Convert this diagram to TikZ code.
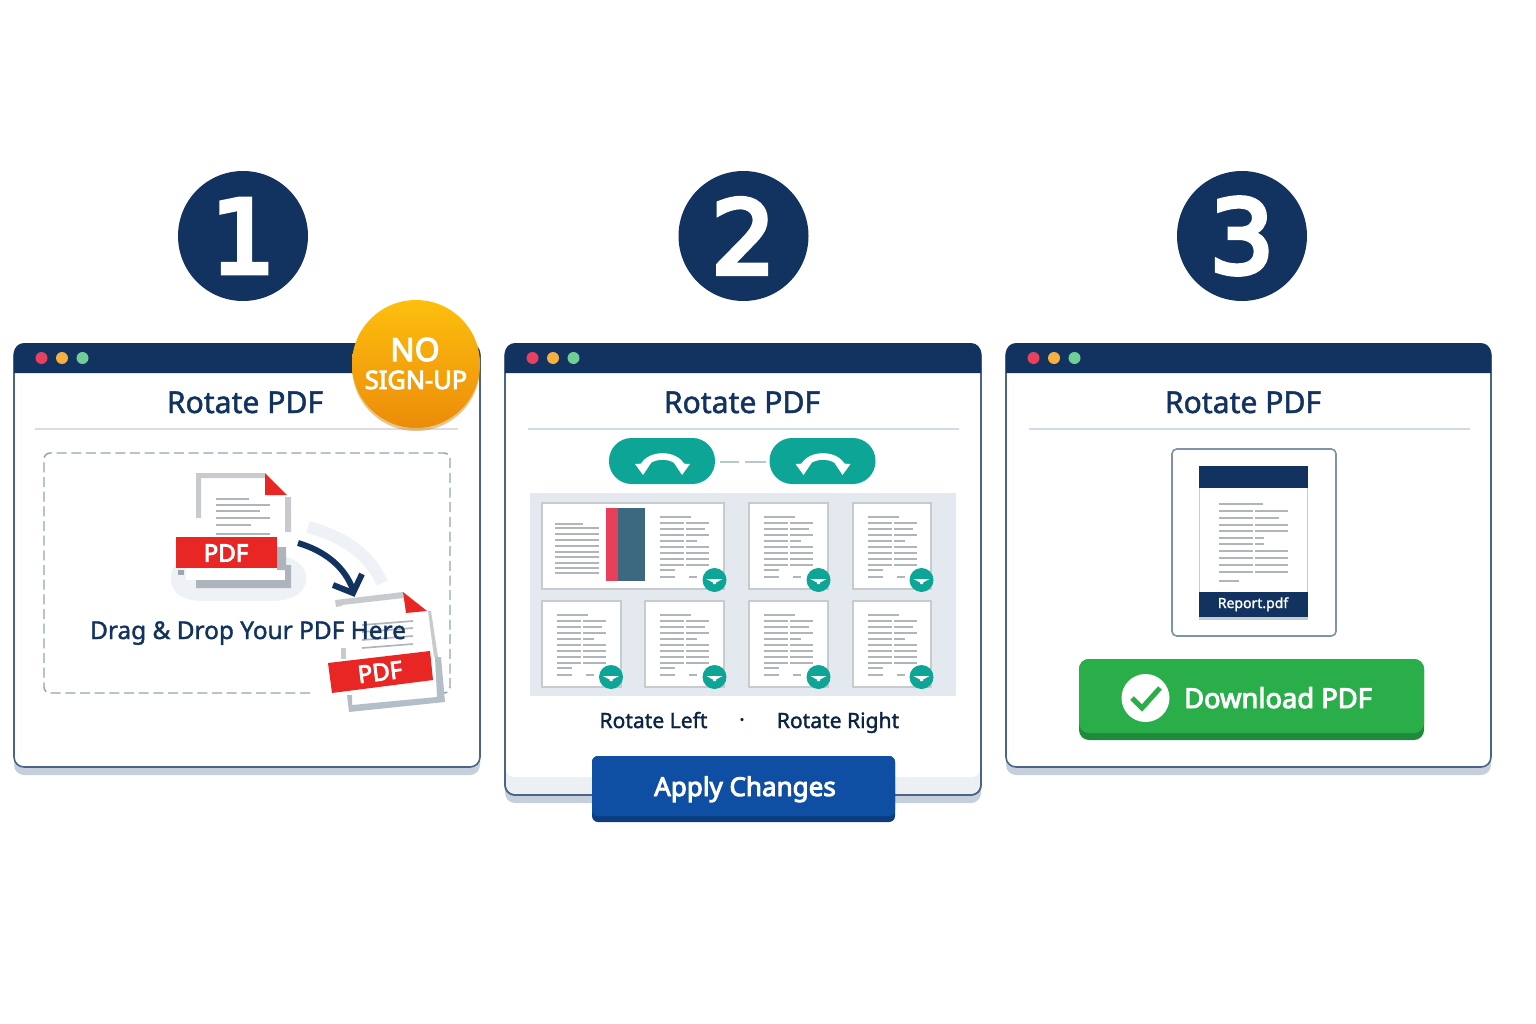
\documentclass[tikz,border=0pt]{standalone}
\usepackage{fontspec}
\setmainfont{Noto Sans}
\newfontfamily\medfont[FakeBold=1.6]{Noto Sans}
\newfontfamily\heavyfont[FakeBold=3.6]{Noto Sans}
\newfontfamily\digitfont[FakeBold=5]{DejaVu Sans}

\definecolor{navy}{RGB}{18,51,95}
\definecolor{winline}{RGB}{74,101,133}
\definecolor{winshadow}{RGB}{197,208,220}
\definecolor{teal}{RGB}{12,165,150}
\definecolor{pdfred}{RGB}{232,39,36}
\definecolor{docgrey}{RGB}{200,203,206}
\definecolor{txtgrey}{RGB}{176,181,186}
\definecolor{pale}{RGB}{238,241,245}

\tikzset{every picture/.style={line width=0.75pt}}
\tikzset{
  txtline/.style={draw=txtgrey,line width=1.25pt},
  paper/.style={fill=white,draw=docgrey,line width=1.4pt},
  title/.style={anchor=base,inner sep=0.75pt,text=navy,font=\medfont\fontsize{22.6}{26}\selectfont},
  stepdigit/.style={inner sep=0.75pt,text=white,font=\digitfont\fontsize{76}{90}\selectfont},
  pdftag/.style={inner sep=0.75pt,text=white,font=\heavyfont\fontsize{18}{20}\selectfont},
  caption/.style={anchor=base,inner sep=0.75pt,text=navy!70!black,font=\medfont\fontsize{15.8}{19}\selectfont},
  pics/turnicon/.style={code={
    \fill [teal,rounded corners=17pt] (-53,-23) rectangle (53,23) ;
    \draw [white,line width=5pt] (-19,6) .. controls (-13,-8) and (14,-8) .. (20,6) ;
    \fill [white] (-27,3) -- (-11,2) -- (-19,14) -- cycle ;
    \fill [white] (28,3) -- (12,2) -- (20,14) -- cycle ;
  }},
  pics/minibadge/.style={code={
    \fill [teal] (0,0) circle (9pt) ;
    \fill [white] (-8,-1) -- (8,-1) -- (1.5,2.5) -- (1.5,4) -- (-1.5,4) -- (-1.5,2.5) -- cycle ;
  }},
}

\newcommand{\pagelines}[2]{
  \draw [txtline] (#1+15,#2+14) -- (#1+46,#2+14) ;
  \foreach \dy/\re in {20/64,26/60,32/64,38/52,44/64,50/64,56/64,62/64}
    \draw [txtline] (#1+15,#2+\dy) -- (#1+39,#2+\dy) (#1+41,#2+\dy) -- (#1+\re,#2+\dy) ;
  \draw [txtline] (#1+15,#2+67) -- (#1+30,#2+67) ;
  \draw [txtline] (#1+15,#2+74) -- (#1+30,#2+74) (#1+44,#2+74) -- (#1+52,#2+74) ;
}

\begin{document}
\begin{tikzpicture}[x=0.75pt,y=0.75pt,yscale=-1,xscale=1]
\useasboundingbox (0,0) rectangle (1536,1024);

% Step circles
\foreach \cx/\lab in {243/1,743.5/2,1242/3}{
  \fill [navy] (\cx,236) circle (48.75pt) ;
  \node (step\lab) [stepdigit] at (\cx,236) {\lab};
}

% Windows
\foreach \wl/\wr/\wb/\tx/\rl/\rr/\rc [count=\n] in {14/480/767/245/35/458/225,505/981/795/742/528/959/210,1006/1491/767/1243/1029/1470/210}{
  \fill [winshadow,rounded corners=7.5pt] (\wl,360) rectangle (\wr,\wb+8) ;
  \fill [white,rounded corners=7.5pt] (\wl,345) rectangle (\wr,\wb) ;
  \draw [winline,line width=1.2pt,rounded corners=7.5pt] (\wl,345) rectangle (\wr,\wb) ;
  \fill [navy] (\wl,373) [rounded corners=7.5pt] -- (\wl,343) -- (\wr,343) [sharp corners] -- (\wr,373) -- cycle ;
  \fill [color={rgb,255:red,232;green,64;blue,95}] (\wl+27.5,358) circle (4.5pt) ;
  \fill [color={rgb,255:red,245;green,176;blue,65}] (\wl+48,358) circle (4.5pt) ;
  \fill [color={rgb,255:red,111;green,207;blue,151}] (\wl+68.5,358) circle (4.5pt) ;
  \draw [line width=1.5pt,color={rgb,255:red,\rc;green,218;blue,229}] (\rl,429) -- (\rr,429) ;
  \node (title\n) [title] at (\tx,413) {Rotate PDF};
}

% Footer band of the middle window
\fill [color={rgb,255:red,236;green,239;blue,243},rounded corners=7.5pt] (506,760) rectangle (980,794) ;
\fill [white,rounded corners=6pt] (506,740) rectangle (980,777) ;
\draw [winline,line width=1.2pt,rounded corners=7.5pt] (505,745) -- (505,795) -- (981,795) -- (981,745) ;

% Drop zone
\draw [color={rgb,255:red,143;green,163;blue,184},line width=1.1pt,dash pattern=on 7.5pt off 3.5pt,rounded corners=4.5pt]
  (310,693) -- (44,693) -- (44,453) -- (450,453) -- (450,693) -- (436,693) ;

% First document
\fill [pale] (171,578) .. controls (171,558) and (190,555) .. (210,555) -- (280,555) .. controls (300,560) and (306,568) .. (306,578) .. controls (306,595) and (290,601) .. (270,601) -- (205,601) .. controls (185,601) and (171,595) .. (171,578) -- cycle ;
\fill [white] (201,478) -- (265,478) -- (285,497) -- (285,537) -- (201,537) -- cycle ;
\fill [docgrey] (196,473) rectangle (265,478) (196,473) rectangle (201,518) (285,497) rectangle (291,532) ;
\fill [pdfred] (265,473) -- (265,495) -- (287,495) -- cycle ;
\foreach \ly/\lr in {499/249,505/270,511/260,518/270,525/251,534/270}
  \draw [txtline] (216,\ly) -- (\lr,\ly) ;
\fill [white] (186,560) rectangle (285,580) ;
\fill [color={rgb,255:red,174;green,180;blue,188}] (196,580) rectangle (291,588) (285,565) rectangle (291,588) (277,547) rectangle (286,570) ;
\fill [color={rgb,255:red,160;green,166;blue,174}] (178,570) rectangle (184,575) ;
\fill [pdfred] (176,537) rectangle (277,568) ;
\node (pdfa) [pdftag] at (226,553) {PDF};

% Drag arrow
\draw [pale,line width=9pt] (308,527) .. controls (345,537) and (370,555) .. (382,583) ;
\draw [navy,line width=4.5pt] (298,543) .. controls (325,551) and (345,567) .. (353,590) ;
\draw [navy,line width=4.5pt,line join=miter] (333,585) -- (353,593) -- (362,574) ;

% Second document
\fill [white] (335,600) -- (403,592) -- (428,611) -- (445,702) -- (349,712) -- cycle ;
\fill [docgrey] (335,600) -- (403,592) -- (404,598) -- (342,605) -- (342,606) -- (336,607) -- cycle ;
\fill [docgrey] (428,611) -- (431,611) -- (438,657) -- (434,657) -- cycle ;
\fill [color={rgb,255:red,180;green,190;blue,200}] (435,657) -- (441,657) -- (445,702) -- (349,712) -- (347,695) -- (352,695) -- (352,705) -- (437,697) -- cycle ;
\fill [pdfred] (403,592) -- (406,613) -- (427,611) -- cycle ;
\fill [color={rgb,255:red,200;green,203;blue,206}] (341,648) rectangle (346,659) ;
\foreach \ly in {625,632,640,648}
  \draw [txtline] (362,\ly) -- (413,\ly-4) ;
\fill [pdfred] (328,663) -- (430,651) -- (433,680) -- (332,693) -- cycle ;
\node (pdfb) [pdftag,rotate=7] at (380,672) {PDF};

% Text Node
\node (dragtext) [anchor=base,inner sep=0.75pt,text=navy,font=\medfont\fontsize{18.3}{22}\selectfont] at (248,639) {Drag \& Drop Your PDF Here};

% Badge
\fill [color={rgb,255:red,214;green,150;blue,40},opacity=0.55] (416,367) circle (48pt) ;
\shade [top color={rgb,255:red,253;green,191;blue,13},bottom color={rgb,255:red,236;green,140;blue,10}] (416,364) circle (48pt) ;
\node (badgeno) [anchor=base,inner sep=0.75pt,text=white,font=\heavyfont\fontsize{24}{28}\selectfont] at (415,361) {NO};
\node (badgesign) [anchor=base,inner sep=0.75pt,text=white,font=\heavyfont\fontsize{19}{22}\selectfont] at (416,389) {SIGN-UP};

% Rotate controls
\pic [transform shape] at (662,461) {turnicon};
\pic [transform shape] at (822.5,461) {turnicon};
\draw [color={rgb,255:red,185;green,198;blue,208},line width=1.2pt] (720,462) -- (739,462) (745,462) -- (766,462) ;

% Page panel
\fill [color={rgb,255:red,228;green,233;blue,239}] (530,493) rectangle (956,696) ;
\foreach \pl/\ptop/\pr in {542/503/724,749/503/828,853/503/931,542/601/621,645/601/724,749/601/828,853/601/931}
  \draw [paper] (\pl,\ptop) rectangle (\pr,\ptop+86) ;
\pagelines{645}{503}
\pagelines{749}{503}
\pagelines{853}{503}
\pagelines{542}{601}
\pagelines{645}{601}
\pagelines{749}{601}
\pagelines{853}{601}
% open page
\draw [txtline] (555,524) -- (583,524) ;
\foreach \ly in {528,534,540,546,552,557,563,568,573}
  \draw [txtline] (555,\ly) -- (599,\ly) ;
\fill [white] (604,505) rectangle (648,587) ;
\fill [color={rgb,255:red,232;green,64;blue,90}] (606,508) rectangle (618,581) ;
\fill [color={rgb,255:red,60;green,104;blue,128}] (618,508) rectangle (645,581) ;
\foreach \bx/\by in {714.5/580,818.5/580,921.5/580,611/677,714.5/677,818.5/677,921.5/677}
  \pic [transform shape] at (\bx,\by) {minibadge};

% Text Node
\node (rotl) [caption] at (653.5,728) {Rotate Left};
\node (sepdot) [caption] at (742,727) {·};
\node (rotr) [caption] at (838,728) {Rotate Right};

% Apply button
\fill [color={rgb,255:red,11;green,61;blue,128},rounded corners=4.5pt] (592,756) rectangle (895,822) ;
\fill [color={rgb,255:red,15;green,79;blue,163},rounded corners=4.5pt] (592,756) rectangle (895,816) ;
\node (applytext) [anchor=base,inner sep=0.75pt,text=white,font=\heavyfont\fontsize{19.5}{23}\selectfont] at (745,796) {Apply Changes};

% Result document
\draw [fill=white,draw={rgb,255:red,127;green,147;blue,171},line width=1.2pt,rounded corners=3.5pt] (1172,449) rectangle (1336,636) ;
\fill [docgrey] (1199,620) rectangle (1308,616) ;
\draw [fill=white,draw=docgrey,line width=0.75pt] (1199.5,466) rectangle (1307.5,617) ;
\fill [navy] (1199,466) rectangle (1308,488) ;
\fill [navy] (1199,592) rectangle (1308,617) ;
\draw [txtline] (1219,504) -- (1263,504) ;
\foreach \ly/\lr in {511/1288,518/1279,525/1288,531/1288,538/1264,544/1264,551/1288,558/1288,565/1288,572/1288}
  \draw [txtline] (1219,\ly) -- (1253,\ly) (1255,\ly) -- (\lr,\ly) ;
\draw [txtline] (1219,581) -- (1239,581) ;
\node (reportname) [anchor=base,inner sep=0.75pt,text=white,font=\medfont\fontsize{10.5}{13}\selectfont] at (1253,608) {Report.pdf};

% Download button
\fill [color={rgb,255:red,31;green,138;blue,60},rounded corners=7.5pt] (1079,659) rectangle (1424,740) ;
\fill [color={rgb,255:red,42;green,174;blue,74},rounded corners=7.5pt] (1079,659) rectangle (1424,733) ;
\fill [white] (1145.5,698) circle (18pt) ;
\draw [color={rgb,255:red,42;green,174;blue,74},line width=3.8pt] (1132,698) -- (1142,708) -- (1160,688) ;
\node (downloadtext) [anchor=base,inner sep=0.75pt,text=white,font=\heavyfont\fontsize{20.5}{24}\selectfont] at (1278,708) {Download PDF};

\end{tikzpicture}
\end{document}
